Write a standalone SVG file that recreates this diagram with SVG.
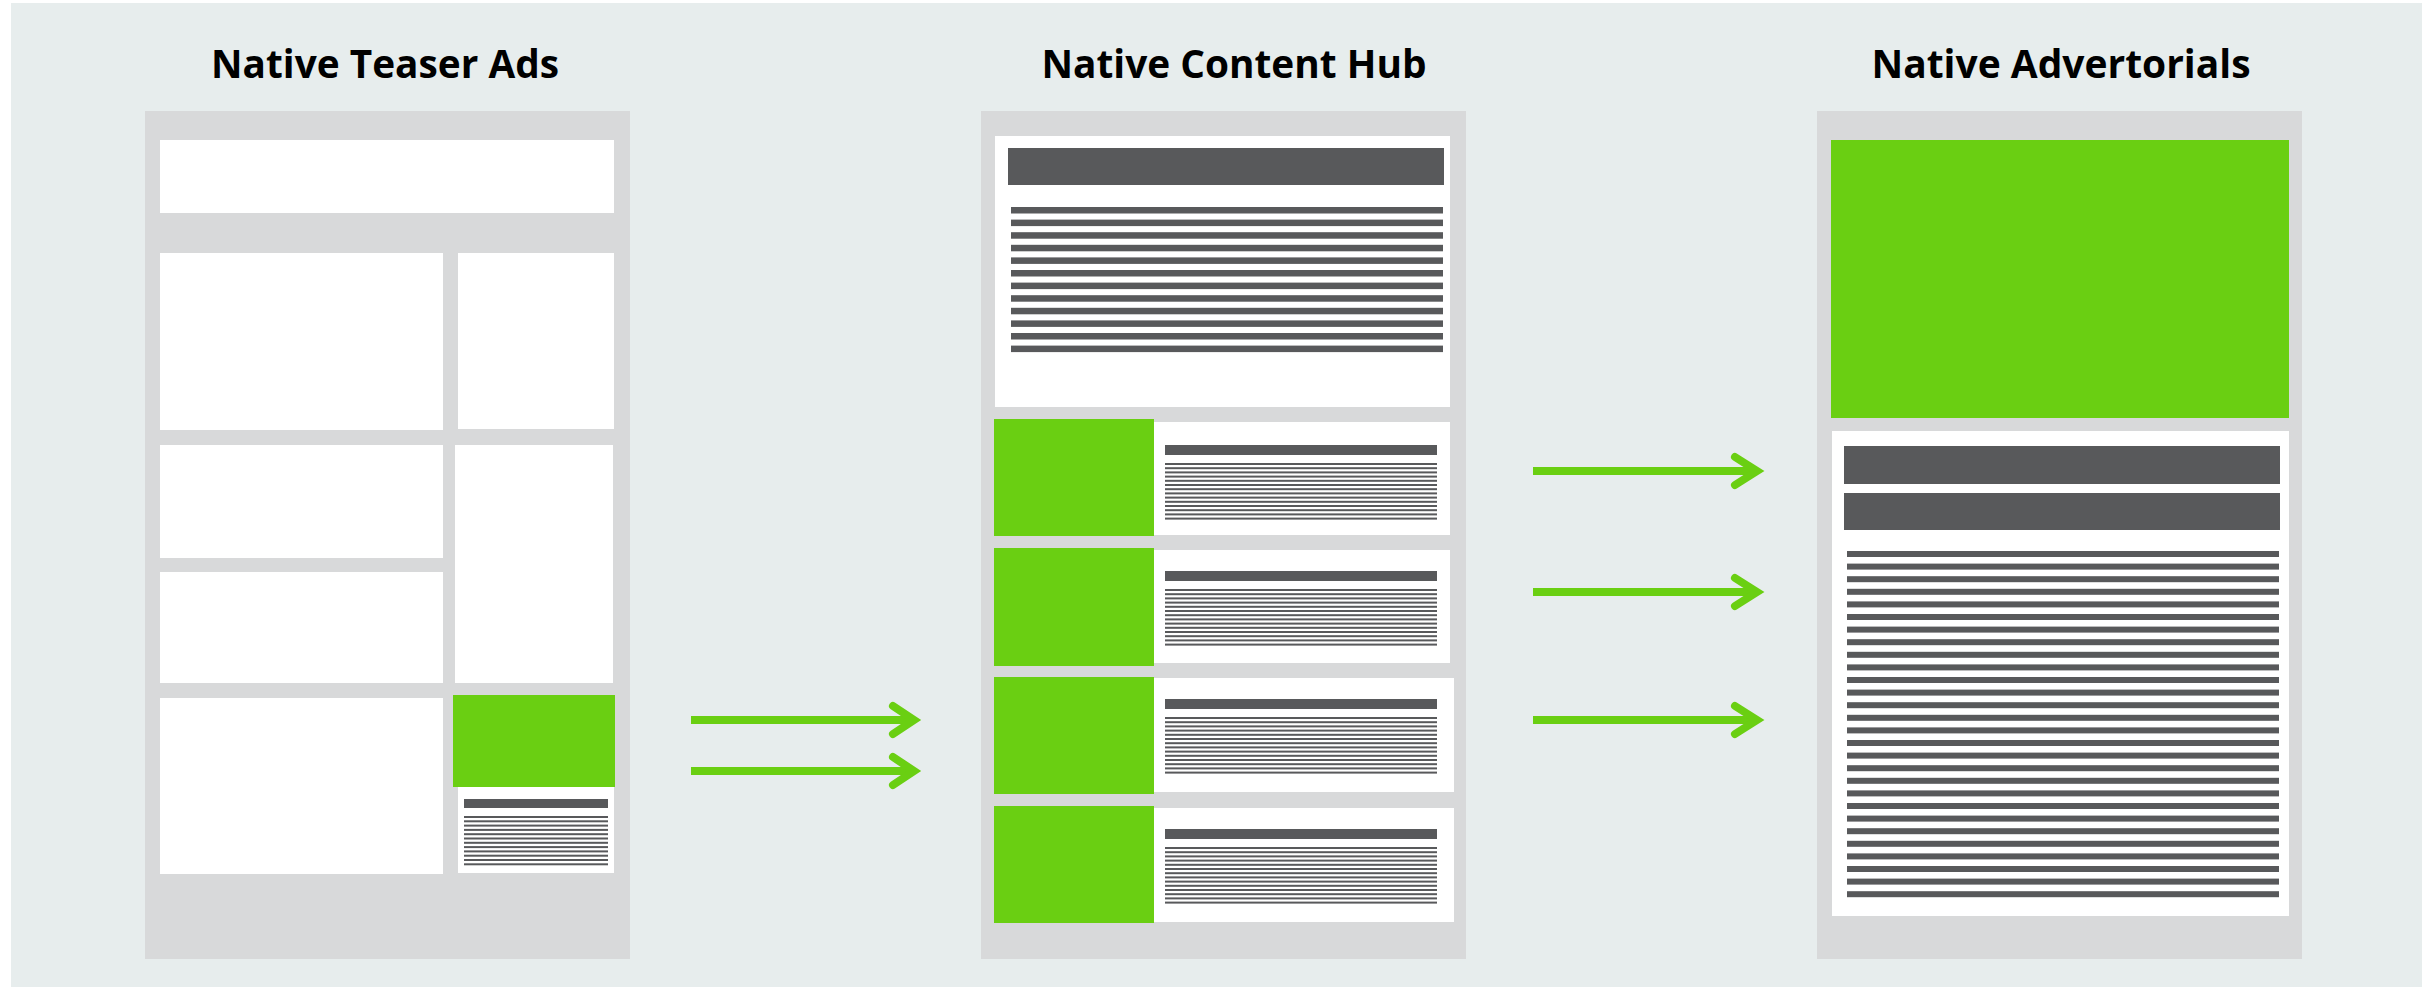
<svg xmlns="http://www.w3.org/2000/svg" xmlns:xlink="http://www.w3.org/1999/xlink" width="2433" height="990" viewBox="0 0 2433 990">
<style>
.bg{fill:#E7EDED}
.panel{fill:#D8D9DA}
.w{fill:#FFFFFF}
.g{fill:#6ACF12}
.d{fill:#58595B}
.t{font-family:"Open Sans","Lato","Liberation Sans",sans-serif;font-weight:bold;font-size:39px;fill:#000;text-anchor:middle}
.arr{fill:none;stroke:#6ACF12;stroke-width:8}
.head{fill:none;stroke:#6ACF12;stroke-width:8;stroke-linecap:round;stroke-linejoin:miter}
</style>
<defs>
<g id="thin14">
<rect class="d" x="0" y="0" width="272" height="2"/>
<rect class="d" x="0" y="4.2" width="272" height="2"/>
<rect class="d" x="0" y="8.4" width="272" height="2"/>
<rect class="d" x="0" y="12.6" width="272" height="2"/>
<rect class="d" x="0" y="16.8" width="272" height="2"/>
<rect class="d" x="0" y="21" width="272" height="2"/>
<rect class="d" x="0" y="25.2" width="272" height="2"/>
<rect class="d" x="0" y="29.4" width="272" height="2"/>
<rect class="d" x="0" y="33.6" width="272" height="2"/>
<rect class="d" x="0" y="37.8" width="272" height="2"/>
<rect class="d" x="0" y="42" width="272" height="2"/>
<rect class="d" x="0" y="46.2" width="272" height="2"/>
<rect class="d" x="0" y="50.4" width="272" height="2"/>
<rect class="d" x="0" y="54.6" width="272" height="2"/>
</g>
<g id="thin12">
<rect class="d" x="0" y="0" width="144" height="2"/>
<rect class="d" x="0" y="4.3" width="144" height="2"/>
<rect class="d" x="0" y="8.6" width="144" height="2"/>
<rect class="d" x="0" y="12.9" width="144" height="2"/>
<rect class="d" x="0" y="17.2" width="144" height="2"/>
<rect class="d" x="0" y="21.5" width="144" height="2"/>
<rect class="d" x="0" y="25.8" width="144" height="2"/>
<rect class="d" x="0" y="30.1" width="144" height="2"/>
<rect class="d" x="0" y="34.4" width="144" height="2"/>
<rect class="d" x="0" y="38.7" width="144" height="2"/>
<rect class="d" x="0" y="43" width="144" height="2"/>
<rect class="d" x="0" y="47.3" width="144" height="2"/>
</g>
</defs>
<rect x="0" y="0" width="2433" height="990" fill="#FFFFFF"/>
<rect class="bg" x="11" y="3" width="2411" height="984"/>

<g id="title-teaser"><text class="t" x="385" y="78" textLength="348" lengthAdjust="spacingAndGlyphs">Native Teaser Ads</text></g>
<g id="title-hub"><text class="t" x="1234" y="78" textLength="385" lengthAdjust="spacingAndGlyphs">Native Content Hub</text></g>
<g id="title-advertorials"><text class="t" x="2061" y="78" textLength="379" lengthAdjust="spacingAndGlyphs">Native Advertorials</text></g>

<g id="teaser-ads">
<rect class="panel" x="145" y="111" width="485" height="848"/>
<rect class="w" x="160" y="140" width="454" height="73"/>
<rect class="w" x="160" y="253" width="283" height="177"/>
<rect class="w" x="458" y="253" width="156" height="176"/>
<rect class="w" x="160" y="445" width="283" height="113"/>
<rect class="w" x="455" y="445" width="158" height="238"/>
<rect class="w" x="160" y="572" width="283" height="111"/>
<rect class="w" x="160" y="698" width="283" height="176"/>
<rect class="g" x="453" y="695" width="162" height="92"/>
<rect class="w" x="458" y="787" width="156" height="86"/>
<rect class="d" x="464" y="799" width="144" height="9"/>
<use xlink:href="#thin12" x="464" y="816"/>
</g>

<g id="content-hub">
<rect class="panel" x="981" y="111" width="485" height="848"/>
<rect class="w" x="995" y="136" width="455" height="271"/>
<rect class="d" x="1008" y="148" width="436" height="37"/>
<rect class="d" x="1011" y="207" width="432" height="6.5"/>
<rect class="d" x="1011" y="219.6" width="432" height="6.5"/>
<rect class="d" x="1011" y="232.2" width="432" height="6.5"/>
<rect class="d" x="1011" y="244.8" width="432" height="6.5"/>
<rect class="d" x="1011" y="257.4" width="432" height="6.5"/>
<rect class="d" x="1011" y="270" width="432" height="6.5"/>
<rect class="d" x="1011" y="282.6" width="432" height="6.5"/>
<rect class="d" x="1011" y="295.2" width="432" height="6.5"/>
<rect class="d" x="1011" y="307.8" width="432" height="6.5"/>
<rect class="d" x="1011" y="320.4" width="432" height="6.5"/>
<rect class="d" x="1011" y="333" width="432" height="6.5"/>
<rect class="d" x="1011" y="345.6" width="432" height="6.5"/>

<rect class="w" x="1154" y="422" width="296" height="113"/>
<rect class="g" x="994" y="419" width="160" height="117"/>
<rect class="d" x="1165" y="445" width="272" height="10"/>
<use xlink:href="#thin14" x="1165" y="463"/>

<rect class="w" x="1154" y="550" width="296" height="113"/>
<rect class="g" x="994" y="548" width="160" height="118"/>
<rect class="d" x="1165" y="571" width="272" height="10"/>
<use xlink:href="#thin14" x="1165" y="589"/>

<rect class="w" x="1154" y="678" width="300" height="114"/>
<rect class="g" x="994" y="677" width="160" height="117"/>
<rect class="d" x="1165" y="699" width="272" height="10"/>
<use xlink:href="#thin14" x="1165" y="717"/>

<rect class="w" x="1154" y="808" width="300" height="114"/>
<rect class="g" x="994" y="806" width="160" height="117"/>
<rect class="d" x="1165" y="829" width="272" height="10"/>
<use xlink:href="#thin14" x="1165" y="847"/>
</g>

<g id="advertorials">
<rect class="panel" x="1817" y="111" width="485" height="848"/>
<rect class="g" x="1831" y="140" width="458" height="278"/>
<rect class="w" x="1832" y="431" width="457" height="485"/>
<rect class="d" x="1844" y="446" width="436" height="38"/>
<rect class="d" x="1844" y="493" width="436" height="37"/>
<g class="d">
<rect x="1847" y="551" width="432" height="6"/>
<rect x="1847" y="563.6" width="432" height="6"/>
<rect x="1847" y="576.2" width="432" height="6"/>
<rect x="1847" y="588.8" width="432" height="6"/>
<rect x="1847" y="601.4" width="432" height="6"/>
<rect x="1847" y="614" width="432" height="6"/>
<rect x="1847" y="626.6" width="432" height="6"/>
<rect x="1847" y="639.2" width="432" height="6"/>
<rect x="1847" y="651.8" width="432" height="6"/>
<rect x="1847" y="664.4" width="432" height="6"/>
<rect x="1847" y="677" width="432" height="6"/>
<rect x="1847" y="689.6" width="432" height="6"/>
<rect x="1847" y="702.2" width="432" height="6"/>
<rect x="1847" y="714.8" width="432" height="6"/>
<rect x="1847" y="727.4" width="432" height="6"/>
<rect x="1847" y="740" width="432" height="6"/>
<rect x="1847" y="752.6" width="432" height="6"/>
<rect x="1847" y="765.2" width="432" height="6"/>
<rect x="1847" y="777.8" width="432" height="6"/>
<rect x="1847" y="790.4" width="432" height="6"/>
<rect x="1847" y="803" width="432" height="6"/>
<rect x="1847" y="815.6" width="432" height="6"/>
<rect x="1847" y="828.2" width="432" height="6"/>
<rect x="1847" y="840.8" width="432" height="6"/>
<rect x="1847" y="853.4" width="432" height="6"/>
<rect x="1847" y="866" width="432" height="6"/>
<rect x="1847" y="878.6" width="432" height="6"/>
<rect x="1847" y="891.2" width="432" height="6"/>
</g>
</g>

<g id="connectors">
<line class="arr" x1="691" y1="720" x2="912" y2="720"/>
<polyline class="head" points="893,706 914,720 893,734"/>
<line class="arr" x1="691" y1="771" x2="912" y2="771"/>
<polyline class="head" points="893,757 914,771 893,785"/>
<line class="arr" x1="1533" y1="471" x2="1755" y2="471"/>
<polyline class="head" points="1735,457 1757,471 1735,485"/>
<line class="arr" x1="1533" y1="592" x2="1755" y2="592"/>
<polyline class="head" points="1735,578 1757,592 1735,606"/>
<line class="arr" x1="1533" y1="720" x2="1755" y2="720"/>
<polyline class="head" points="1735,706 1757,720 1735,734"/>
</g>
</svg>
